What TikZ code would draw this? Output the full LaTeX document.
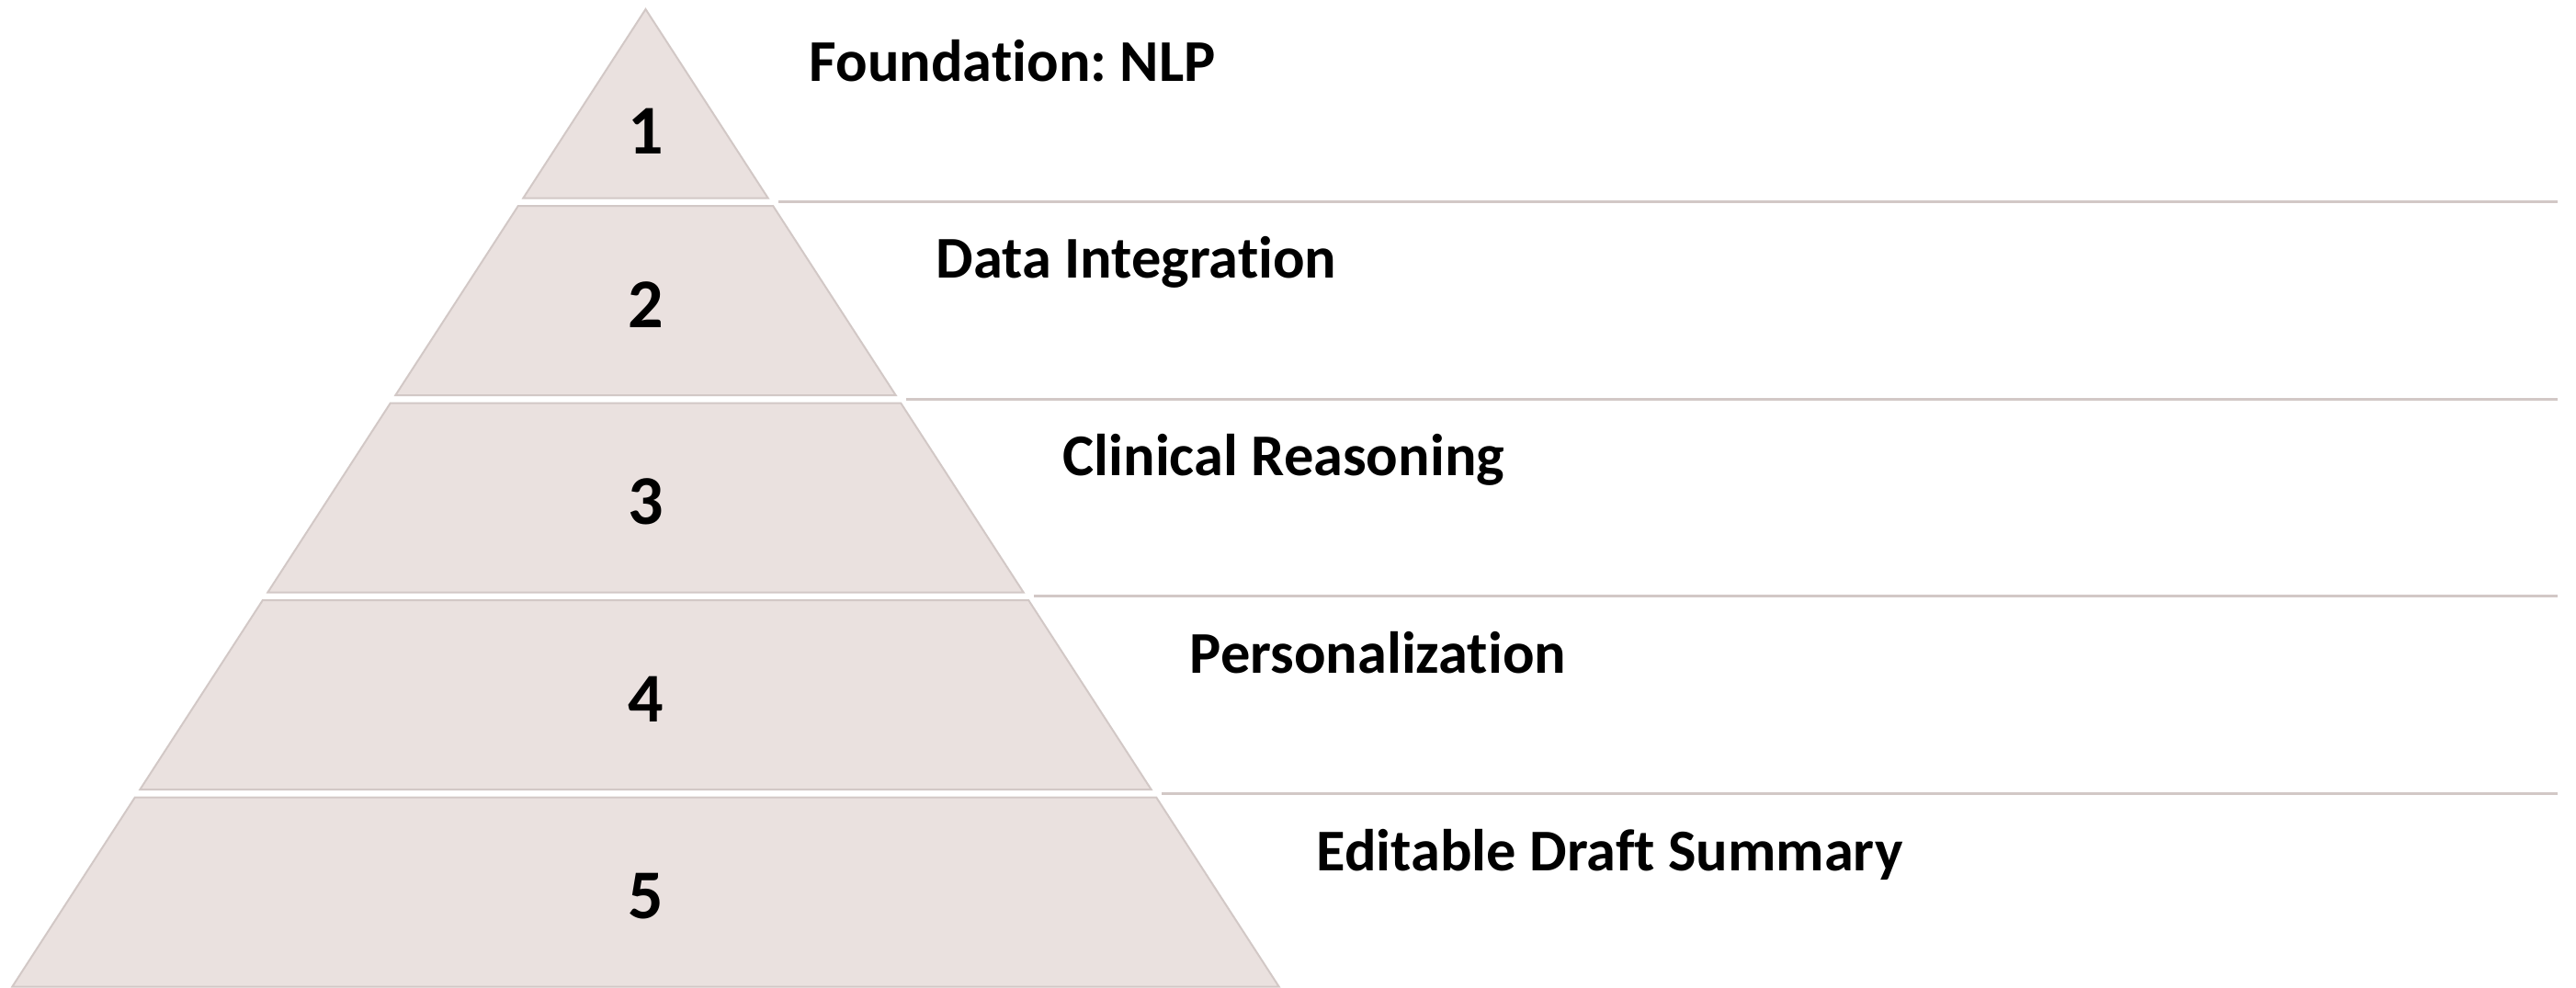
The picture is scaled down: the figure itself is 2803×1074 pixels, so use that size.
\documentclass[tikz,border=0pt]{standalone}
\usepackage{fontspec}
\setmainfont{Carlito}[Ligatures=NoCommon]
\frenchspacing

\definecolor{tierfill}{RGB}{234,225,223}
\definecolor{tierline}{RGB}{210,200,198}

\begin{document}
\begin{tikzpicture}[x=0.25pt,y=-0.25pt,
  tier/.style={fill=tierfill,draw=tierline,line width=0.5pt},
  rule/.style={draw=tierline,line width=0.75pt},
  num/.style={font=\bfseries\fontsize{19}{22}\selectfont,inner sep=0pt,anchor=base},
  lbl/.style={font=\bfseries\fontsize{16.1}{19}\selectfont,inner sep=0pt,anchor=base west}]
  \useasboundingbox (0,0) rectangle (2803,1074);
  % pyramid tiers
  \draw[tier] (702.5,10) -- ({702.5+0.648*205.5},215.5) -- ({702.5-0.648*205.5},215.5) -- cycle;
  \foreach \i in {2,...,5} {
    \pgfmathsetmacro\yt{224+214.5*(\i-2)}
    \pgfmathsetmacro\yb{215.5+214.5*(\i-1)}
    \draw[tier] ({702.5-0.648*(\yt-10)},\yt) -- ({702.5+0.648*(\yt-10)},\yt)
      -- ({702.5+0.648*(\yb-10)},\yb) -- ({702.5-0.648*(\yb-10)},\yb) -- cycle;
  }
  % separators
  \foreach \i in {1,...,4} {
    \pgfmathsetmacro\yr{219.5+214.5*(\i-1)}
    \coordinate (a\i) at ({702.5+0.648*(\yr-10)+9},\yr);
    \coordinate (b\i) at (2783,\yr);
    \draw[rule] (a\i) -- (b\i);
  }
  % numbers
  \node[num] (n1) at (702.5,167) {1};
  \foreach \i in {2,...,5}
    \node[num] (n\i) at (702.5,{356+214.5*(\i-2)}) {\i};
  % labels
  \foreach \i/\txt in {1/Foundation: NLP,2/Data Integration,3/Clinical Reasoning,4/Personalization,5/Editable Draft Summary}
    \node[lbl] (l\i) at ({880+138*(\i-1)},{88+214.75*(\i-1)}) {\txt};
\end{tikzpicture}
\end{document}
